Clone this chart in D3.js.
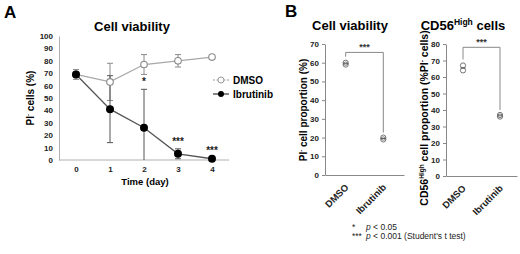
<!DOCTYPE html>
<html><head><meta charset="utf-8">
<script src="https://cdn.jsdelivr.net/npm/d3@7"></script>
<style>
body{margin:0;background:#fff;}
svg{display:block;font-family:"Liberation Sans",Arial,sans-serif;}
</style></head>
<body>
<svg id="c" width="520" height="254"></svg>
<script>
// ---- Panel A data ----
const days = [0, 1, 2, 3, 4];
const dmsoMean = [69, 63, 77, 80, 83];
const dmsoErr  = [4, 15, 8, 5, 1.5];
const ibruMean = [69, 41, 26, 5, 1];
const ibruErr  = [2, 27, 31, 4, 0.8];
const sigMarks = ["", "", "*", "***", "***"];
const yTicksA = [0,10,20,30,40,50,60,70,80,90,100];

// ---- Panel B data ----
const groups = ["DMSO", "Ibrutinib"];
const viabDMSO = [59, 60];
const viabIbru = [19, 20];
const cd56DMSO = [64, 67];
const cd56Ibru = [36, 37];
const yTicksB1 = [0,10,20,30,40,50,60,70];
const yTicksB2 = [0,10,20,30,40,50,60,70,80];

const svg = d3.select("#c");
const axisCol = "#b0b0b0";

// ===== Panel A =====
svg.append("text").attr("x",4).attr("y",18).attr("font-size",17).attr("font-weight","bold").text("A");
svg.append("text").attr("x",132).attr("y",31).attr("text-anchor","middle").attr("font-size",13).attr("font-weight","bold").text("Cell viability");

const xA = d3.scaleLinear().domain([-0.5,4.5]).range([59,229]);
const yA = d3.scaleLinear().domain([0,100]).range([160,36]);

const gA = svg.append("g");
const yAxA = gA.append("g").attr("transform","translate(59,0)")
  .call(d3.axisLeft(yA).tickValues(yTicksA).tickSize(0).tickPadding(6));
yAxA.select(".domain").attr("stroke",axisCol);
yAxA.selectAll("text").attr("font-size",8).attr("font-weight","bold").attr("fill","#222");
const xAxA = gA.append("g").attr("transform","translate(0,160)")
  .call(d3.axisBottom(xA).tickValues(days).tickFormat(d3.format("d")).tickSize(0).tickPadding(6));
xAxA.select(".domain").attr("stroke",axisCol).attr("d","M59,0H229");
xAxA.selectAll("text").attr("font-size",8).attr("font-weight","bold").attr("fill","#222");

gA.append("text").attr("x",145).attr("y",185).attr("text-anchor","middle").attr("font-size",9.5).attr("font-weight","bold").text("Time (day)");
const ylA = gA.append("text").attr("transform","translate(34,98) rotate(-90)").attr("text-anchor","middle").attr("font-size",10).attr("font-weight","bold");
ylA.append("tspan").text("PI");
ylA.append("tspan").attr("font-size",6).attr("dy",-4).text("-");
ylA.append("tspan").attr("dy",4).text(" cells (%)");

function errBars(g, means, errs, col){
  days.forEach((d,i)=>{
    const lo = Math.max(0, means[i]-errs[i]), hi = means[i]+errs[i];
    const x = xA(d);
    g.append("line").attr("x1",x).attr("x2",x).attr("y1",yA(lo)).attr("y2",yA(hi)).attr("stroke",col).attr("stroke-width",1);
    g.append("line").attr("x1",x-3).attr("x2",x+3).attr("y1",yA(hi)).attr("y2",yA(hi)).attr("stroke",col).attr("stroke-width",1);
    if (means[i]-errs[i] >= 0)
      g.append("line").attr("x1",x-3).attr("x2",x+3).attr("y1",yA(lo)).attr("y2",yA(lo)).attr("stroke",col).attr("stroke-width",1);
  });
}
const line = (m)=>d3.line().x((d,i)=>xA(days[i])).y(d=>yA(d))(m);

errBars(gA, dmsoMean, dmsoErr, "#8a8a8a");
errBars(gA, ibruMean, ibruErr, "#555");
gA.append("path").attr("d",line(dmsoMean)).attr("fill","none").attr("stroke","#a8a8a8").attr("stroke-width",1.3);
gA.append("path").attr("d",line(ibruMean)).attr("fill","none").attr("stroke","#555").attr("stroke-width",1.3);
gA.selectAll(".pd").data(dmsoMean).enter().append("circle")
  .attr("cx",(d,i)=>xA(days[i])).attr("cy",d=>yA(d)).attr("r",3.3)
  .attr("fill","#fff").attr("stroke","#8a8a8a").attr("stroke-width",1.1);
gA.selectAll(".pi").data(ibruMean).enter().append("circle")
  .attr("cx",(d,i)=>xA(days[i])).attr("cy",d=>yA(d)).attr("r",4)
  .attr("fill","#000");
sigMarks.forEach((s,i)=>{
  if(!s) return;
  gA.append("text").attr("x",xA(days[i])).attr("y",yA(ibruMean[i]+ibruErr[i])-4)
    .attr("text-anchor","middle").attr("font-size",10).attr("font-weight","bold").attr("fill","#222").text(s);
});

// legend
const lg = svg.append("g");
lg.append("line").attr("x1",213).attr("x2",229).attr("y1",80).attr("y2",80).attr("stroke","#999").attr("stroke-dasharray","2,1.5");
lg.append("circle").attr("cx",221).attr("cy",80).attr("r",3).attr("fill","#fff").attr("stroke","#999");
lg.append("text").attr("x",233).attr("y",83.5).attr("font-size",10).attr("font-weight","bold").text("DMSO");
lg.append("line").attr("x1",213).attr("x2",229).attr("y1",94).attr("y2",94).attr("stroke","#333").attr("stroke-width",1.2);
lg.append("circle").attr("cx",221).attr("cy",94).attr("r",3).attr("fill","#000");
lg.append("text").attr("x",233).attr("y",97.5).attr("font-size",10).attr("text-anchor","start").text("Ibrutinib").attr("font-weight","bold");

// ===== Panel B =====
svg.append("text").attr("x",285).attr("y",17).attr("font-size",17).attr("font-weight","bold").text("B");

function panelB(opt){
  const g = svg.append("g");
  const x = d3.scalePoint().domain(groups).range(opt.xr).padding(opt.pad);
  const y = d3.scaleLinear().domain([0,opt.max]).range([opt.y0,44]);
  g.append("text").attr("x",opt.tx).attr("y",30).attr("text-anchor","middle").attr("font-size",13).attr("font-weight","bold").call(opt.title);
  const ya = g.append("g").attr("transform",`translate(${opt.xr[0]},0)`)
    .call(d3.axisLeft(y).tickValues(opt.ticks).tickSize(3).tickSizeOuter(0).tickPadding(3));
  ya.select(".domain").attr("stroke","#888");
  ya.selectAll("line").attr("stroke","#888");
  ya.selectAll("text").attr("font-size",8).attr("font-weight","bold").attr("fill","#222");
  const xa = g.append("g").attr("transform",`translate(0,${opt.y0})`)
    .call(d3.axisBottom(x).tickSize(0).tickSizeOuter(0).tickPadding(0));
  xa.select(".domain").attr("stroke","#888");
  xa.selectAll("text").attr("font-size",9.5).attr("font-weight","bold").attr("fill","#222")
    .attr("text-anchor","end").attr("dy",0).attr("transform","translate(3,13) rotate(-45)");
  // y label
  const yl = g.append("text").attr("transform",`translate(${opt.lx},${opt.ly}) rotate(-90)`).attr("text-anchor","middle").attr("font-size",opt.lfs).attr("font-weight","bold");
  opt.label(yl);
  // points
  [[opt.d,groups[0]],[opt.i,groups[1]]].forEach(([vals,gname])=>{
    const cx = x(gname);
    vals.forEach(v=>{
      g.append("circle").attr("cx",cx).attr("cy",y(v)).attr("r",2.6).attr("fill","none").attr("stroke","#666").attr("stroke-width",0.9);
    });
    const m = d3.mean(vals);
    g.append("line").attr("x1",cx-2.5).attr("x2",cx+2.5).attr("y1",y(m)).attr("y2",y(m)).attr("stroke","#555").attr("stroke-width",0.9);
  });
  // bracket
  const x1 = x(groups[0]), x2 = x(groups[1]);
  const top = y(opt.bt);
  g.append("path").attr("d",`M${x1},${y(d3.max(opt.d))-6}V${top}H${x2}V${y(d3.max(opt.i))+ -5}`)
    .attr("fill","none").attr("stroke","#888").attr("stroke-width",1);
  g.append("text").attr("x",(x1+x2)/2).attr("y",top-2).attr("text-anchor","middle").attr("font-size",9).attr("font-weight","bold").attr("fill","#333").text("***");
}

panelB({xr:[325,404], pad:0.55, y0:175, max:70, ticks:yTicksB1, d:viabDMSO, i:viabIbru, bt:65.5, tx:350,
  title:t=>t.text("Cell viability"),
  lx:307, ly:110, lfs:10,
  label:t=>{t.append("tspan").text("PI");t.append("tspan").attr("font-size",6).attr("dy",-4).text("-");t.append("tspan").attr("dy",4).text(" cell proportion (%)");}
});
panelB({xr:[446,517], pad:0.46, y0:176, max:80, ticks:yTicksB2, d:cd56DMSO, i:cd56Ibru, bt:78, tx:463,
  title:t=>{t.append("tspan").text("CD56");t.append("tspan").attr("font-size",8.5).attr("dy",-5).text("High");t.append("tspan").attr("dy",5).text(" cells");},
  lx:428, ly:118, lfs:10.5,
  label:t=>{t.append("tspan").text("CD56");t.append("tspan").attr("font-size",6.5).attr("dy",-4).text("High");t.append("tspan").attr("dy",4).text(" cell proportion (%PI");t.append("tspan").attr("font-size",6.5).attr("dy",-4).text("-");t.append("tspan").attr("dy",4).text(" cells)");}
});

// footnote
const fn = svg.append("g").attr("font-size",8.5).attr("fill","#222");
const f1 = fn.append("text").attr("x",352).attr("y",230);
f1.append("tspan").text("*");
f1.append("tspan").attr("x",366).attr("font-style","italic").text("p");
f1.append("tspan").text(" < 0.05");
const f2 = fn.append("text").attr("x",352).attr("y",239);
f2.append("tspan").text("***");
f2.append("tspan").attr("x",366).attr("font-style","italic").text("p");
f2.append("tspan").text(" < 0.001 (Student's t test)");
</script>
</body></html>
